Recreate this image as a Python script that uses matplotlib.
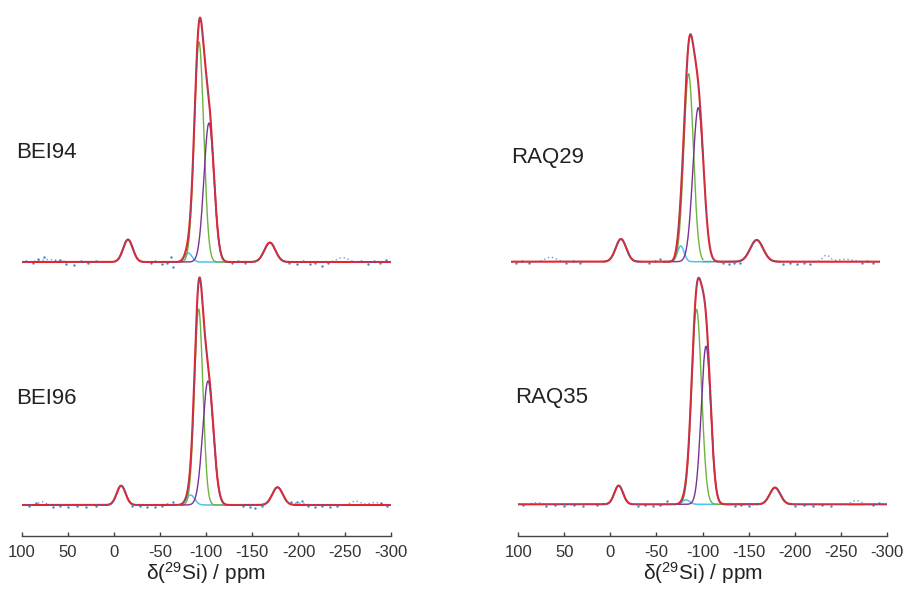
import numpy as np
import matplotlib
matplotlib.use("Agg")
import matplotlib.pyplot as plt

plt.rcParams['font.family'] = ['Liberation Sans', 'DejaVu Sans']
plt.rcParams['mathtext.fontset'] = 'custom'
plt.rcParams['mathtext.rm'] = 'Liberation Sans'
plt.rcParams['mathtext.default'] = 'regular'

# sample names, order: top-left, bottom-left, top-right, bottom-right
labels = ["BEI94", "BEI96", "RAQ29", "RAQ35"]

# fitted components (position ppm, height, gaussian width ppm); heights in arbitrary units
q3_pos = [-92.2, -91.8, -92.5, -93.5]
q3_amp = [220, 196, 188, 195]
q3_wid = [5.1, 4.6, 5.2, 5.4]
q4_pos = [-103.0, -102.0, -103.0, -103.8]
q4_amp = [139, 124, 154, 158]
q4_wid = [5.5, 5.8, 5.8, 5.2]
q2_pos = [-80.6, -83.0, -84.0, -82.0]
q2_amp = [9.0, 10.0, 15.7, 4.5]
q2_wid = [4.0, 4.5, 3.6, 4.0]
center_win = [(-62, -123), (-72, -126), (-65, -108), (-72, -122)]

# spinning sidebands
ssb_pos = [[-15.2, -169.0], [-7.8, -177.3], [-19.2, -166.3], [-9.0, -178.7]]
ssb_amp = [[22.4, 19.4], [19.3, 17.7], [22.7, 21.7], [18.7, 16.7]]
ssb_wid = [[5.2, 6.0], [4.8, 5.7], [5.7, 7.0], [4.7, 5.7]]
ssb_win = [[(-1, -32), (-122, -189)], [(12, -21), (-126, -187)],
           [(0, -40), (-108, -192)], [(8, -21), (-125, -197)]]

# features of the measured spectra that the fit leaves out
bump_pos = [[70, -248], [78, -262, -283, -200], [57, -242, -262], [80, -267]]
bump_amp = [[2.5, 4.5], [3.3, 4.0, 2.5, 2.0], [4.5, 6.5, 2.5], [1.7, 3.7]]
bump_wid = [[10, 6], [4, 5, 6, 6], [6, 4, 8], [5, 5]]

# scattered noise points of the measured spectra (ppm, offset)
noise_ppm = [
    [95, 88, 82, 76, 64, 58, 52, 43, 36, 28, 20, -40, -45, -52, -58, -62, -64, -128, -135, -142,
     -190, -198, -205, -212, -218, -225, -232, -268, -275, -282, -288, -295],
    [92, 84, 66, 58, 50, 40, 30, 20, -20, -28, -36, -44, -52, -58, -64, -140, -147, -153, -160,
     -192, -198, -204, -210, -218, -226, -234, -242, -290, -296],
    [95, 88, 80, 40, 33, 25, -50, -56, -61, -130, -136, -142, -148, -195, -202, -210, -218, -224,
     -280, -286, -292],
    [95, 70, 60, 50, 40, 30, 15, -30, -38, -46, -54, -61, -135, -142, -150, -200, -210, -220,
     -230, -240, -285, -292],
]
noise_off = [
    [1, -1, 2, 3, -1, 1, -2, -3, 1, -1, 1, -1, 1, -2, -1, 5, -5, -1, 1, -1,
     -1, -2, 1, -2, -1, -4, -1, 1, -2, 1, -1, 2],
    [-1, 1, -2, -1, -2, -1, -2, -1, -2, -1, -2, -2, -1, 1, 3, -1, -2, -3, -1,
     2, 1, 2, -1, -2, -1, -2, -1, 1, -1],
    [-1, 1, -1, -1, 1, -1, -1, 1, 3, -1, -2, -1, -2, -2, -1, -2, -1, -2,
     -1, 1, -1],
    [-1, -2, -1, -2, -1, -2, -1, -2, -1, -2, -1, 3, -2, -1, -2, -2, -1, -2,
     -1, -2, -1, 1],
]

ticks = [100, 50, 0, -50, -100, -150, -200, -250, -300]

# panel placement in pixels: left, right, baseline, top, bottom
W, H = 905, 594
panels = [(21.7, 390.7, 262.0, 0, 275),
          (21.7, 390.7, 505.0, 265, 535.7),
          (511.0, 880.0, 261.7, 0, 275),
          (518.3, 886.7, 504.3, 265, 535.7)]
label_xy = [(16, 153), (16, 398), (511, 158), (515, 398)]

RED = '#e8222c'
GREEN = '#6db33f'
PURPLE = '#7b3294'
CYAN = '#4cc3ec'
TEAL = '#41a3b3'
BLUE = '#2b7bc0'


def gauss(x, p, a, w):
    return a * np.exp(-(x - p) ** 2 / (2 * w ** 2))


fig = plt.figure(figsize=(W / 100, H / 100), dpi=100)
x = np.linspace(100, -300, 2401)

for i in range(4):
    x0, x1, base, top, bottom = panels[i]
    ax = fig.add_axes([x0 / W, 1 - bottom / H, (x1 - x0) / W, (bottom - top) / H])
    ax.set_facecolor('none')
    ax.set_xlim(100, -300)
    ax.set_ylim(-(bottom - base), base - top)

    q3 = gauss(x, q3_pos[i], q3_amp[i], q3_wid[i])
    q4 = gauss(x, q4_pos[i], q4_amp[i], q4_wid[i])
    q2 = gauss(x, q2_pos[i], q2_amp[i], q2_wid[i])
    fit = q3 + q4 + q2
    for p, a, w, (lo, hi) in zip(ssb_pos[i], ssb_amp[i], ssb_wid[i], ssb_win[i]):
        s = gauss(x, p, a, w)
        fit = fit + s
        m = (x <= lo) & (x >= hi)
        ax.plot(x[m], s[m], color=TEAL, lw=1.2)

    lo, hi = center_win[i]
    m = (x <= lo) & (x >= hi)
    ax.plot(x[m], q2[m], color=CYAN, lw=1.1)
    ax.plot(x[m], q3[m], color=GREEN, lw=1.0)
    ax.plot(x[m], q4[m], color=PURPLE, lw=1.0)

    exp = fit.copy()
    for p, a, w in zip(bump_pos[i], bump_amp[i], bump_wid[i]):
        exp = exp + gauss(x, p, a, w)

    ax.plot(x, fit, color=RED, lw=1.5)
    ax.plot(x, exp, color=BLUE, lw=1.0, ls=(0, (1, 2)), alpha=0.7)
    npp = np.array(noise_ppm[i], dtype=float)
    ny = np.interp(npp, x[::-1], exp[::-1]) + np.array(noise_off[i])
    ax.scatter(npp, ny, s=3, color=BLUE, lw=0, alpha=0.9)

    for side in ['top', 'left', 'right']:
        ax.spines[side].set_visible(False)
    ax.set_yticks([])
    if i in (1, 3):
        ax.spines['bottom'].set_color('#444444')
        ax.spines['bottom'].set_linewidth(1.0)
        ax.set_xticks(ticks)
        ax.set_xticklabels([str(t) for t in ticks])
        ax.tick_params(axis='x', direction='in', length=3, width=1.0, color='#444444',
                       labelsize=12, labelcolor='#333333', pad=7)
        fig.text((x0 + x1) / 2 / W, 1 - 573 / H, r'δ($^{29}$Si) / ppm',
                 ha='center', va='center', fontsize=15, color='#222222')
    else:
        ax.spines['bottom'].set_visible(False)
        ax.set_xticks([])

    lx, ly = label_xy[i]
    fig.text(lx / W, 1 - ly / H, labels[i], ha='left', va='center',
             fontsize=16, color='#222222')

fig.savefig('out.png', dpi=100)
